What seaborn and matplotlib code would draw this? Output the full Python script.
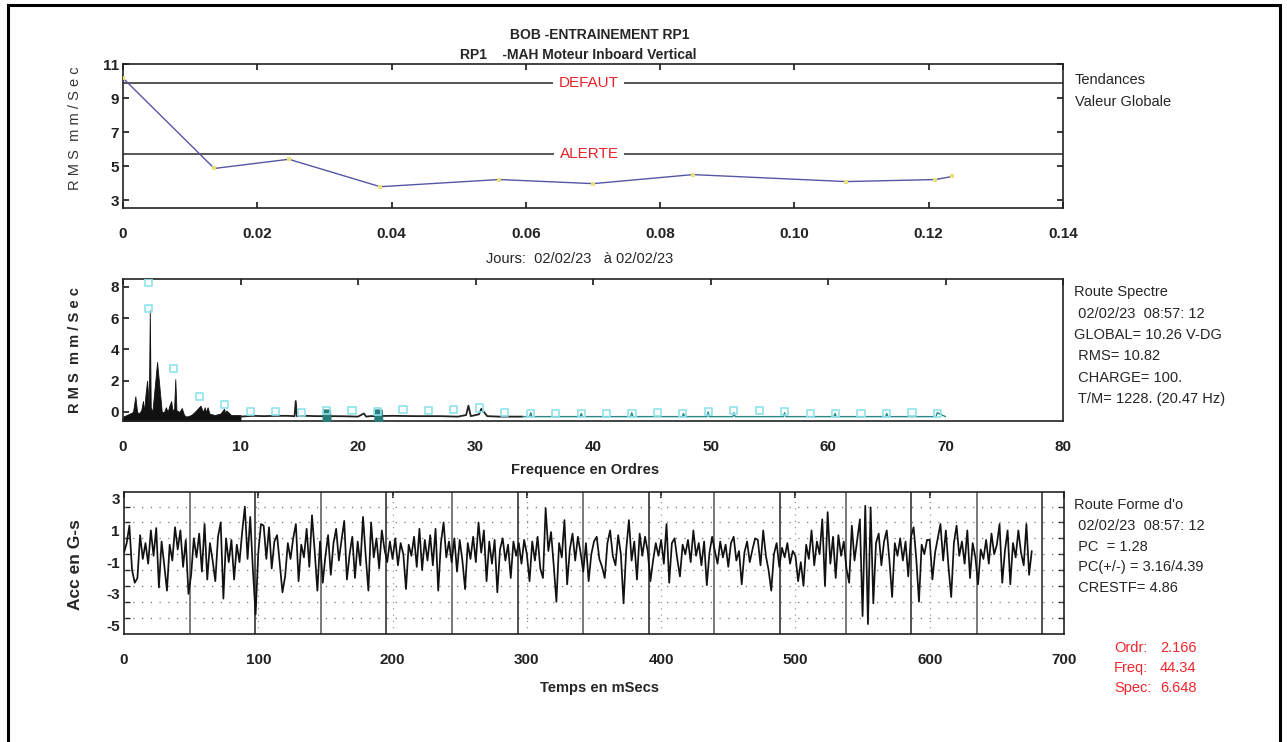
import numpy as np
import matplotlib
matplotlib.use("Agg")
import matplotlib.pyplot as plt
import seaborn as sns
from matplotlib.patches import Rectangle

# ---------------- data ----------------
# Trend (top panel)
trend_days = [0.0, 0.0136, 0.0247, 0.0383, 0.0560, 0.0700, 0.0849, 0.1077, 0.1210, 0.1235]
trend_rms = [10.17, 4.87, 5.41, 3.80, 4.22, 3.98, 4.51, 4.10, 4.22, 4.40]
defaut_level = 9.87
alerte_level = 5.70
trend_xticks = [0.0, 0.02, 0.04, 0.06, 0.08, 0.10, 0.12, 0.14]
trend_xlabels = ["0", "0.02", "0.04", "0.06", "0.08", "0.10", "0.12", "0.14"]
trend_yticks = [3, 5, 7, 9, 11]

# Spectrum (middle panel)
spec_low_orders = [0.0, 0.3, 0.6, 0.85, 1.05, 1.2, 1.35, 1.55, 1.7, 1.8, 1.9, 2.05, 2.2, 2.28, 2.36,
                   2.5, 2.9, 3.3, 3.5, 3.65, 3.8, 3.95, 4.1, 4.2, 4.35, 4.45, 4.55, 4.8,
                   5.0, 5.2, 5.4, 5.8, 6.1, 6.6, 6.8, 6.95, 7.05, 7.2, 7.35, 7.8, 8.3, 8.6, 8.7,
                   8.8, 9.2, 10.0]
spec_low_amps = [-0.3, -0.2, -0.1, 0.0, 1.0, 0.0, -0.1, 0.1, 0.7, 0.0, 1.0, 2.0, 0.4, 6.5, 0.3,
                 0.0, 3.2, 0.0, 0.0, 0.3, 0.0, 0.4, 0.7, 0.1, 0.2, 2.1, 0.1, 0.0,
                 0.25, -0.2, -0.3, -0.2, 0.0, 0.4, 0.0, 0.3, 0.0, 0.3, -0.1, -0.2, -0.1, 0.2, -0.1,
                 0.1, -0.2, -0.2]
spec_mid_orders = [10.0, 11.0, 12.0, 13.0, 14.0, 14.6, 14.7, 14.8, 15.5, 16.5, 18.0, 19.0, 20.0, 20.5,
                   20.7, 21.0, 23.0, 25.0, 27.0, 28.5, 29.2, 29.4, 29.6, 30.3, 30.5, 31.0, 32.0, 33.0, 34.0]
spec_mid_amps = [-0.3, -0.25, -0.27, -0.25, -0.25, -0.27, 0.7, -0.27, -0.25, -0.27, -0.27, -0.28, -0.3, -0.1,
                 -0.3, -0.27, -0.25, -0.27, -0.27, -0.3, -0.2, 0.4, -0.27, -0.15, 0.2, -0.27, -0.3, -0.3, -0.3]
bump1_orders = [17.0, 17.05, 17.6, 17.65]
bump1_amps = [-0.4, 0.15, 0.15, -0.4]
bump2_orders = [21.4, 21.45, 22.0, 22.05]
bump2_amps = [-0.4, 0.15, 0.15, -0.4]
spec_tail_orders = [34.0, 34.6, 34.7, 34.8, 38.9, 39.0, 39.1, 43.2, 43.3, 43.4, 47.6, 47.7, 47.8,
                    49.7, 49.8, 49.9, 51.9, 52.0, 52.1, 56.2, 56.3, 56.4, 60.5, 60.6, 60.7,
                    64.9, 65.0, 65.1, 69.2, 69.3, 70.0]
spec_tail_amps = [-0.3, -0.3, -0.05, -0.3, -0.3, -0.1, -0.3, -0.3, -0.05, -0.3, -0.3, -0.1, -0.3,
                  -0.3, 0.0, -0.3, -0.3, -0.05, -0.3, -0.3, -0.05, -0.3, -0.3, -0.1, -0.3,
                  -0.3, -0.1, -0.3, -0.3, -0.05, -0.3]
harm_orders = [2.17, 4.33, 6.50, 8.66, 10.83, 13.00, 15.16, 17.33, 19.49, 21.66, 23.83, 25.99,
               28.16, 30.32, 32.49, 34.66, 36.82, 38.99, 41.15, 43.32, 45.49, 47.65, 49.82, 51.98,
               54.15, 56.32, 58.48, 60.65, 62.81, 64.98, 67.15, 69.31, 2.17]
harm_amps = [6.6, 2.8, 1.0, 0.5, 0.0, 0.05, -0.05, 0.1, 0.1, 0.05, 0.15, 0.1,
             0.15, 0.25, -0.05, -0.1, -0.1, -0.1, -0.1, -0.1, -0.05, -0.1, 0.05, 0.1,
             0.1, 0.05, -0.1, -0.1, -0.1, -0.1, -0.05, -0.1, 8.3]
spec_xticks = [0, 10, 20, 30, 40, 50, 60, 70, 80]
spec_yticks = [0, 2, 4, 6, 8]

# Waveform (bottom panel), one sample every 2 ms
wave_step_ms = 2
wave_g = [
    -0.4, 0.2, 1.3, -1.5, -2.3, -2.0, 0.7, -0.8, 0.2, -1.1,
    1.0, -0.6, 1.15, -2.6, 0.3, -1.2, -2.8, 0.1, -0.9, 1.2,
    -0.2, 1.0, -1.3, 0.4, -3.0, -1.8, 0.5, -0.7, 0.8, -1.6,
    1.4, -2.1, 0.2, -0.9, -2.2, 0.6, 1.5, -3.3, 0.5, -1.0,
    0.4, -2.1, 0.1, -1.0, 0.9, 2.5, -0.8, 1.85, -1.5, -4.3,
    -0.4, 1.4, 1.3, -0.8, 1.2, -1.4, 0.3, 0.7, -1.1, -2.9,
    -1.9, 0.2, -0.8, 0.5, 1.4, -2.2, 0.1, -0.7, 1.1, -1.3,
    1.95, -0.3, -2.8, 0.3, -2.3, -0.6, 0.7, -1.8, 0.2, 1.1,
    -0.9, 0.4, 1.6, -2.1, -0.5, 0.6, -2.0, 0.3, -1.2, 1.85,
    -0.6, -2.8, 1.5, -0.7, 0.5, -1.4, 1.0, -0.2, -1.0, 0.3,
    -0.8, 0.5, -1.2, 0.2, -0.5, -2.7, 0.1, -0.6, 0.6, -1.3,
    1.1, -1.5, 0.4, -0.9, 0.7, -1.2, 1.1, -2.8, 0.2, 1.5,
    -0.7, 0.3, -1.0, 0.5, -1.6, 0.4, -0.9, -2.7, 0.2, -0.8,
    0.6, -1.0, 1.5, -0.4, 1.0, -2.2, 0.3, -1.1, 0.4, -2.9,
    -0.2, 0.5, -0.9, 0.1, -2.0, 0.3, -0.6, 0.2, -1.1, 0.4,
    -0.5, -2.2, 0.3, -0.9, 0.6, -1.4, -2.0, 2.4, -0.3, 0.9,
    -1.2, -3.5, 0.2, -0.7, 1.65, -2.4, -0.2, 0.8, -0.9, 0.6,
    -0.4, -1.6, 0.2, -2.2, -0.5, 0.3, 0.6, -0.8, -1.3, -2.0,
    0.2, 1.0, -0.6, -1.2, 0.7, -0.5, -3.6, -0.2, 1.65, -0.9,
    0.3, -2.1, 0.8, -0.6, 0.6, -0.3, -2.2, -0.9, 0.2, -0.6,
    0.4, -1.1, 1.4, -2.3, 0.2, 0.5, -0.8, -1.9, 0.1, -0.5,
    0.4, -1.0, 1.0, -0.6, 0.2, -1.2, 0.3, -2.45, -0.4, 0.6,
    -0.3, -1.1, 0.3, -0.7, 0.1, -1.3, 0.2, 0.6, -0.9, -0.3,
    -2.4, -0.4, 0.3, -1.0, -0.2, 0.5, 0.4, -1.2, 1.0, -0.6,
    -1.5, -2.8, -0.5, 0.2, -1.3, -0.1, -0.7, 0.2, -1.1, -0.3,
    -0.6, -2.2, -1.0, -2.5, 0.1, -0.8, 1.0, -1.2, 0.3, -0.5,
    1.7, -2.5, 2.15, -1.1, 0.6, -2.0, 0.7, -0.6, 0.3, -1.4,
    -2.3, 1.3, -0.9, 0.4, 1.7, -4.4, 2.55, -4.9, 2.45, -3.6,
    0.2, 0.8, -1.2, 0.3, 1.0, -0.9, -3.2, 0.2, -0.6, 0.5,
    -0.9, 0.3, -1.9, 0.6, 1.2, -0.8, -3.5, 0.1, -0.5, 0.4,
    0.4, -2.1, -0.4, 0.5, 1.4, -0.9, 1.0, -1.3, -3.2, 0.2,
    1.3, -0.6, 0.3, -1.1, 1.0, -2.0, 0.2, -0.7, -2.4, -0.2,
    -0.8, 0.4, -1.1, 0.8, -0.5, 0.1, 1.4, -2.3, -0.3, 1.0,
    -2.4, 0.2, -0.7, 1.0, -0.4, -1.2, 1.4, -1.8, -0.3,
]
wave_ms = np.arange(len(wave_g)) * wave_step_ms
rev_marks_ms = [48.85, 97.7, 146.55, 195.4, 244.25, 293.1, 341.95, 390.8, 439.65,
                488.5, 537.35, 586.2, 635.05, 683.9]
wave_xticks = [0, 100, 200, 300, 400, 500, 600, 700]
wave_yticks = [3, 1, -1, -3, -5]
wave_dotted_levels = [2.5, 1.5, 0.5, -0.5, -1.5, -2.5, -3.5, -4.5]

# ---------------- style ----------------
sns.set_theme(style="white")
plt.rcParams['font.family'] = ['Liberation Sans', 'DejaVu Sans']

W_PX, H_PX = 1287, 742
fig = plt.figure(figsize=(W_PX / 100, H_PX / 100), dpi=100)
fig.patch.set_facecolor("white")


def fx(px):
    return px / W_PX


def fy(py):
    return 1 - py / H_PX


ax1 = fig.add_axes([fx(123), fy(208), fx(940), 144 / H_PX])
ax2 = fig.add_axes([fx(123), fy(421), fx(940), 142 / H_PX])
ax3 = fig.add_axes([fx(124), fy(634), fx(940), 142 / H_PX])

tick_font = dict(fontsize=11, fontweight="bold")


def style_axes(ax):
    for s in ax.spines.values():
        s.set_visible(True)
        s.set_color("#222222")
        s.set_linewidth(1.2)
    ax.set_facecolor("white")
    ax.grid(False)


# ---------- top panel: trend ----------
style_axes(ax1)
ax1.axhline(defaut_level, color="#3a3a3a", lw=1.2, zorder=1)
ax1.axhline(alerte_level, color="#3a3a3a", lw=1.2, zorder=1)
sns.lineplot(x=trend_days, y=trend_rms, ax=ax1, color="#5656a6", lw=1.0, sort=False,
             estimator=None, zorder=3)
ax1.scatter(trend_days, trend_rms, s=9, marker="s", color="#e8e27c", zorder=4, linewidths=0)
ax1.text(0.0694, defaut_level, "DEFAUT", color="#e8232a", fontsize=11, ha="center", va="center",
         bbox=dict(facecolor="white", edgecolor="none", pad=4), zorder=5)
ax1.text(0.0694, alerte_level, "ALERTE", color="#e8232a", fontsize=11, ha="center", va="center",
         bbox=dict(facecolor="white", edgecolor="none", pad=4), zorder=5)
ax1.set_xlim(0, 0.14)
ax1.set_ylim(2.55, 11.0)
ax1.set_xticks(trend_xticks)
ax1.set_xticklabels(trend_xlabels, **tick_font)
ax1.set_yticks(trend_yticks)
ax1.set_yticklabels([str(v) for v in trend_yticks], **tick_font)
ax1.tick_params(axis="x", direction="in", top=True, bottom=True, length=4, pad=14, colors="#222")
ax1.tick_params(axis="y", direction="in", left=True, right=True, length=4, pad=3, colors="#222")
ax1.set_xlabel("")
ax1.set_ylabel("")

# ---------- middle panel: spectrum ----------
style_axes(ax2)
base = -0.58
ax2.fill_between(spec_low_orders, base, spec_low_amps, color="#111111", lw=0.6, zorder=2)
sns.lineplot(x=spec_mid_orders, y=spec_mid_amps, ax=ax2, color="#222222", lw=1.3, sort=False,
             estimator=None, zorder=3)
ax2.fill_between(bump1_orders, base, bump1_amps, color="#2b7b78", zorder=3)
ax2.fill_between(bump2_orders, base, bump2_amps, color="#2b7b78", zorder=3)
sns.lineplot(x=spec_tail_orders, y=spec_tail_amps, ax=ax2, color="#2b8a86", lw=1.0, sort=False,
             estimator=None, zorder=3)
ax2.scatter(harm_orders, harm_amps, s=26, marker="s", facecolors="none",
            edgecolors="#8fe3ea", linewidths=1.2, zorder=5)
ax2.set_xlim(0, 80)
ax2.set_ylim(base, 8.5)
ax2.set_xticks(spec_xticks)
ax2.set_xticklabels([str(v) for v in spec_xticks], **tick_font)
ax2.set_yticks(spec_yticks)
ax2.set_yticklabels([str(v) for v in spec_yticks], **tick_font)
ax2.tick_params(axis="x", direction="in", top=True, bottom=False, length=4, pad=14, colors="#222")
ax2.tick_params(axis="y", direction="in", left=True, right=False, length=4, pad=3, colors="#222")
ax2.set_xlabel("")
ax2.set_ylabel("")

# ---------- bottom panel: waveform ----------
style_axes(ax3)
for lvl in wave_dotted_levels:
    ax3.axhline(lvl, color="#777777", lw=0.9, ls=(0, (1, 6)), zorder=1)
for xv in wave_xticks[1:-1]:
    ax3.axvline(xv, color="#999999", lw=0.9, ls=(0, (1, 4)), zorder=1)
for i, rv in enumerate(rev_marks_ms):
    ax3.axvline(rv, color="#222222" if i % 2 else "#555555", lw=1.1, zorder=2)
sns.lineplot(x=wave_ms, y=wave_g, ax=ax3, color="#111111", lw=1.25, sort=False,
             estimator=None, zorder=3)
ax3.set_xlim(0, 700)
ax3.set_ylim(-5.53, 3.42)
ax3.set_xticks(wave_xticks)
ax3.set_xticklabels([str(v) for v in wave_xticks], **tick_font)
ax3.set_yticks(wave_yticks)
ax3.set_yticklabels([str(v) for v in wave_yticks], **tick_font)
ax3.set_yticks(wave_dotted_levels, minor=True)
ax3.tick_params(axis="x", direction="in", top=True, bottom=False, length=4, pad=14, colors="#222")
ax3.tick_params(axis="y", which="major", direction="in", left=False, right=False, pad=3, colors="#222")
ax3.tick_params(axis="y", which="minor", direction="in", left=True, right=True, length=4)
ax3.set_xlabel("")
ax3.set_ylabel("")

# ---------- texts ----------
fig.text(fx(600), fy(35), "BOB -ENTRAINEMENT RP1", ha="center", va="center",
         fontsize=10, fontweight="bold")
fig.text(fx(578), fy(55), "RP1    -MAH Moteur Inboard Vertical", ha="center", va="center",
         fontsize=10, fontweight="bold")
fig.text(fx(580), fy(259), "Jours:  02/02/23   à 02/02/23", ha="center", va="center", fontsize=10.5)
fig.text(fx(585), fy(470), "Frequence en Ordres", ha="center", va="center",
         fontsize=10.5, fontweight="bold")
fig.text(fx(600), fy(688), "Temps en mSecs", ha="center", va="center",
         fontsize=10.5, fontweight="bold")

fig.text(fx(75), fy(128), "R M S  m m / S e c", rotation=90, ha="center", va="center",
         fontsize=10.5, color="#333333")
fig.text(fx(75), fy(350), "R M S  m m / S e c", rotation=90, ha="center", va="center",
         fontsize=10.5, fontweight="bold")
fig.text(fx(75), fy(565), "Acc en G-s", rotation=90, ha="center", va="center",
         fontsize=12.5, fontweight="bold")

fig.text(fx(1075), fy(80), "Tendances", ha="left", va="center", fontsize=10.5)
fig.text(fx(1075), fy(102), "Valeur Globale", ha="left", va="center", fontsize=10.5)

spec_info = ["Route Spectre", " 02/02/23  08:57: 12", "GLOBAL= 10.26 V-DG", " RMS= 10.82",
             " CHARGE= 100.", " T/M= 1228. (20.47 Hz)"]
for i, line in enumerate(spec_info):
    fig.text(fx(1074), fy(292 + 21.5 * i), line, ha="left", va="center", fontsize=10.5)

wave_info = ["Route Forme d'o", " 02/02/23  08:57: 12", " PC  = 1.28", " PC(+/-) = 3.16/4.39",
             " CRESTF= 4.86"]
for i, line in enumerate(wave_info):
    fig.text(fx(1074), fy(505 + 20.8 * i), line, ha="left", va="center", fontsize=10.5)

cursor_names = ["Ordr:", "Freq:", "Spec:"]
cursor_vals = ["2.166", "44.34", "6.648"]
for i, (n, v) in enumerate(zip(cursor_names, cursor_vals)):
    fig.text(fx(1114), fy(648 + 20 * i), n, ha="left", va="center", fontsize=10.5, color="#f0262c")
    fig.text(fx(1160), fy(648 + 20 * i), v, ha="left", va="center", fontsize=10.5, color="#f0262c")

# outer frame
fig.patches.append(Rectangle((fx(8), -0.01), fx(1272), fy(5) + 0.01, transform=fig.transFigure,
                             fill=False, lw=2.2, ec="black", zorder=10))

fig.savefig("out.png", dpi=100, facecolor="white")
